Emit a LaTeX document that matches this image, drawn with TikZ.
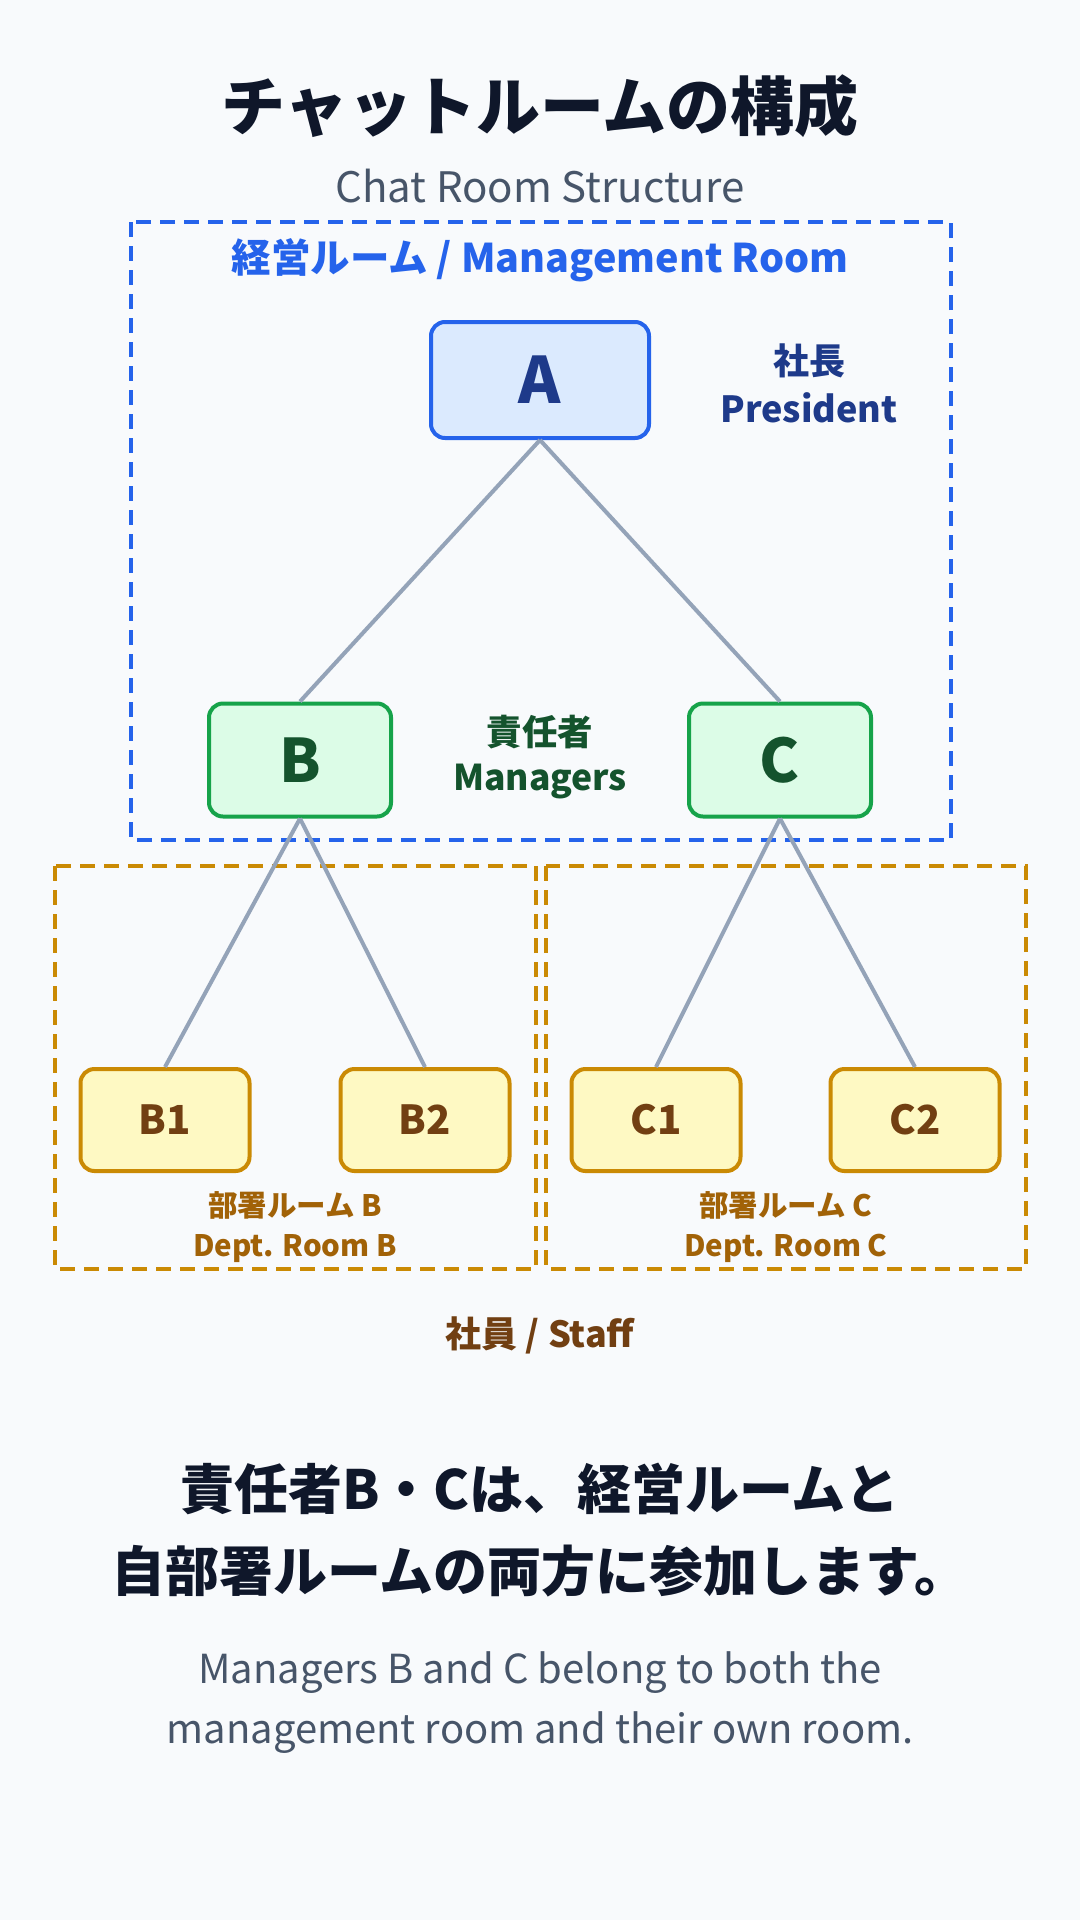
\documentclass[tikz,border=0pt]{standalone}
\usepackage{fontspec}
\setmainfont{Noto Sans CJK JP}
\usepackage{tikz}
\usetikzlibrary{positioning}
\definecolor{bgc}{HTML}{F8FAFC}
\definecolor{ink}{HTML}{0F172A}
\definecolor{slate}{HTML}{475569}
\definecolor{linkc}{HTML}{94A3B8}
\definecolor{bluel}{HTML}{2563EB}
\definecolor{blueb}{HTML}{DBEAFE}
\definecolor{bluet}{HTML}{1E3A8A}
\definecolor{greenl}{HTML}{16A34A}
\definecolor{greenb}{HTML}{DCFCE7}
\definecolor{greent}{HTML}{14532D}
\definecolor{goldl}{HTML}{CA8A04}
\definecolor{goldb}{HTML}{FEF9C3}
\definecolor{goldt}{HTML}{713F12}
\definecolor{deptt}{HTML}{A16207}
\newcommand{\fs}[2]{\fontsize{#1}{#2}\selectfont}
\tikzset{
  box/.style={line width=4pt,rounded corners=14pt,align=center},
  pres/.style={box,draw=bluel,fill=blueb,text=bluet,minimum width=218pt,minimum height=116pt,font=\fs{64}{76}\bfseries},
  mgr/.style={box,draw=greenl,fill=greenb,text=greent,minimum width=182pt,minimum height=113pt,font=\fs{60}{72}\bfseries},
  stf/.style={box,draw=goldl,fill=goldb,text=goldt,minimum width=169pt,minimum height=102pt,font=\fs{40}{48}\bfseries},
  lnk/.style={draw=linkc,line width=4pt},
  mroom/.style={draw=bluel,line width=4pt,dash pattern=on 15pt off 9pt},
  droom/.style={draw=goldl,line width=4pt,dash pattern=on 15pt off 9pt},
  lbl/.style={align=center,inner sep=0pt}
}

\begin{document}
\begin{tikzpicture}[x=1pt,y=-1pt]
\fill[bgc] (0,0) rectangle (1080,1920);
\useasboundingbox (0,0) rectangle (1080,1920);
\node[lbl,text=ink,font=\fs{64}{72}\bfseries] (title) at (540,106) {チャットルームの構成};
\node[lbl,text=slate,font=\fs{42}{48}] (sub) at (540,186) {Chat Room Structure};
\draw[mroom] (131,222) rectangle (951,840);
\draw[droom] (55,866) rectangle (536,1269);
\draw[droom] (546,866) rectangle (1026,1269);
\node[lbl,text=bluel,font=\fs{39.5}{48}\bfseries] (mtitle) at (540,260) {経営ルーム / Management Room};
\node[pres] (a) at (540,380) {A};
\node[lbl,text=bluet,font=\fs{36}{48}\bfseries] (alab) at (809,383) {社長\\President};
\node[mgr] (b) at (300,760) {B};
\node[mgr] (c) at (780,760) {C};
\node[lbl,text=greent,font=\fs{35.5}{45}\bfseries] (blab) at (540,757) {責任者\\Managers};
\node[stf] (b1) at (165,1120) {B1};
\node[stf] (b2) at (425,1120) {B2};
\node[stf] (c1) at (656,1120) {C1};
\node[stf] (c2) at (915,1120) {C2};
\node[lbl,text=deptt,font=\fs{29.5}{40}\bfseries] (dlb) at (295,1227) {部署ルーム B\\Dept. Room B};
\node[lbl,text=deptt,font=\fs{29.5}{40}\bfseries] (dlc) at (786,1227) {部署ルーム C\\Dept. Room C};
\node[lbl,text=goldt,font=\fs{36}{44}\bfseries] (staff) at (540,1335) {社員 / Staff};
\draw[lnk] (a.south) -- (b.north);
\draw[lnk] (a.south) -- (c.north);
\draw[lnk] (b.south) -- (b1.north);
\draw[lnk] (b.south) -- (b2.north);
\draw[lnk] (c.south) -- (c1.north);
\draw[lnk] (c.south) -- (c2.north);
\node[lbl,text=ink,font=\fs{54}{82}\bfseries] (note) at (540,1530) {責任者B・Cは、経営ルームと\\自部署ルームの両方に参加します。};
\node[lbl,text=slate,font=\fs{40}{60}] (eng) at (540,1703) {Managers B and C belong to both the\\management room and their own room.};
\end{tikzpicture}
\end{document}
